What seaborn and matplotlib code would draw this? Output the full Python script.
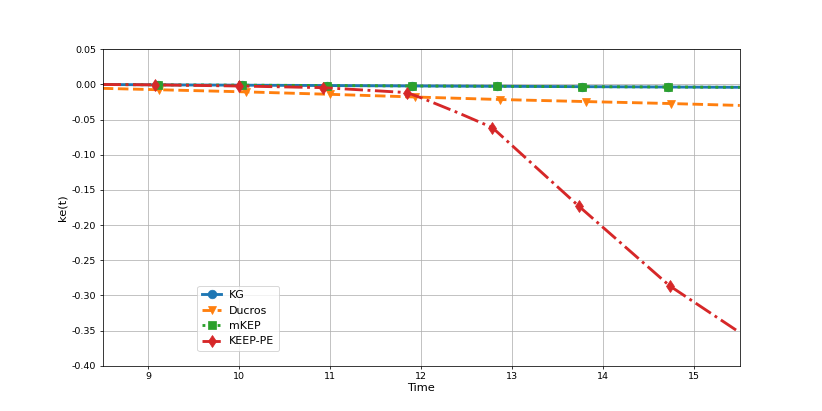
import matplotlib
matplotlib.use("Agg")
import matplotlib.pyplot as plt
import seaborn as sns
import numpy as np

# Data
kg_t = [8.5, 9.11, 10.03, 10.96, 11.90, 12.83, 13.77, 14.71, 15.5]
kg_v = [0.0, -0.0005, -0.0010, -0.0015, -0.0021, -0.0026, -0.0031, -0.0036, -0.0040]

ducros_t = [8.5, 9.12, 10.07, 11.0, 11.93, 12.87, 13.81, 14.74, 15.5]
ducros_v = [-0.0055, -0.0075, -0.0105, -0.0140, -0.0178, -0.0214, -0.0243, -0.0271, -0.0298]

mkep_t = [8.5, 9.11, 10.03, 10.96, 11.90, 12.83, 13.77, 14.71, 15.5]
mkep_v = [0.0, -0.0005, -0.0010, -0.0015, -0.0021, -0.0026, -0.0031, -0.0036, -0.0040]

keep_t = [8.5, 9.07, 10.0, 10.92, 11.84, 12.0, 12.4, 12.78, 13.73, 14.73, 15.5]
keep_v = [0.0, -0.0005, -0.0022, -0.0045, -0.0115, -0.019, -0.040, -0.0612, -0.1729, -0.2864, -0.3527]

x_ticks = [9, 10, 11, 12, 13, 14, 15]
y_ticks = [0.05, 0.00, -0.05, -0.10, -0.15, -0.20, -0.25, -0.30, -0.35, -0.40]

fig, ax = plt.subplots(figsize=(12, 6), dpi=68.5)

lw = 3
ms = 9
sns.lineplot(x=kg_t, y=kg_v, ax=ax, label="KG", color="tab:blue", linestyle="-",
             marker="o", markevery=list(range(1, 8)), lw=lw, ms=ms, mec="tab:blue", sort=False)
sns.lineplot(x=ducros_t, y=ducros_v, ax=ax, label="Ducros", color="tab:orange", linestyle="--",
             marker="v", markevery=list(range(1, 8)), lw=lw, ms=ms, mec="tab:orange", sort=False)
sns.lineplot(x=mkep_t, y=mkep_v, ax=ax, label="mKEP", color="tab:green", linestyle=":",
             marker="s", markevery=list(range(1, 8)), lw=lw, ms=ms, mec="tab:green", sort=False)
sns.lineplot(x=keep_t, y=keep_v, ax=ax, label="KEEP-PE", color="tab:red", linestyle="-.",
             marker="d", markevery=[1, 2, 3, 4, 7, 8, 9], lw=lw, ms=ms, mec="tab:red", sort=False)

ax.set_xlim(8.5, 15.5)
ax.set_ylim(-0.40, 0.05)
ax.set_xticks(x_ticks)
ax.set_yticks(y_ticks)
ax.yaxis.set_major_formatter(matplotlib.ticker.FormatStrFormatter("%.2f"))
ax.grid(True, color="#b0b0b0", linewidth=0.8)
ax.set_xlabel("Time", fontsize=12, labelpad=2)
ax.set_ylabel("ke(t)", fontsize=12)
ax.tick_params(labelsize=10)
ax.legend(loc="lower left", bbox_to_anchor=(0.14, 0.03), fontsize=11.5,
          handlelength=1.8, handletextpad=0.7)

fig.savefig("out.png", dpi=68.5)
